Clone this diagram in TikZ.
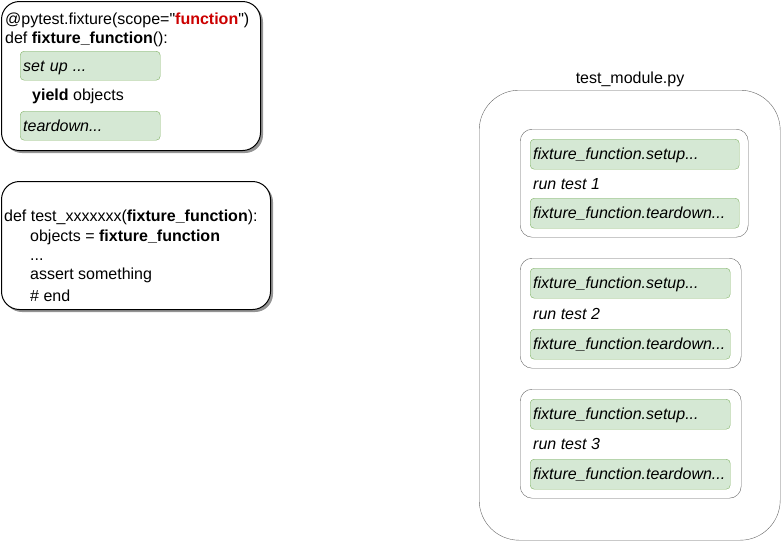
\documentclass[tikz,border=0pt]{standalone}
\usepackage{fontspec}
\setmainfont{Liberation Sans}[Ligatures=TeXOff]
\usetikzlibrary{shadows}
\definecolor{fnred}{HTML}{CC0000}
\definecolor{greenfill}{HTML}{D5E8D4}
\definecolor{greenline}{HTML}{82B366}
\definecolor{boxline}{HTML}{666666}

\begin{document}
\begin{tikzpicture}[x=1pt,y=-1pt]
	\tikzset{every node/.style={font=\fontsize{16}{19.2}\selectfont,
			text height=14pt, text depth=2.5pt}}
	\tikzset{code/.style = {anchor=west, inner sep=0pt}}
	\tikzset{codebox/.style = {draw, line width=1pt, fill=white, rounded corners=18pt,
			anchor=north west, drop shadow={shadow xshift=2.5pt, shadow yshift=-2.5pt,
			fill=black!70, opacity=0.6}}}
	\tikzset{greenbox/.style = {draw=greenline, fill=greenfill, rounded corners=4pt,
			anchor=north west, minimum height=30pt, inner xsep=3pt, inner ysep=0pt,
			align=left, text width=#1, font=\fontsize{16}{19.2}\selectfont\itshape}}
	\tikzset{runbox/.style = {draw=boxline, rounded corners=12pt, anchor=north west}}
	\useasboundingbox (0,0) rectangle (781,542);
	% fixture
	\node[codebox, minimum width=259pt, minimum height=149pt] (fixture) at (1,1) {};
	\node[code] (deco) at (5,19) {@pytest.fixture(scope="\textcolor{fnred}{\textbf{function}}")};
	\node[code] (fixdef) at (5,38) {def \textbf{fixture\_function}():};
	\node[greenbox=134pt, minimum height=29pt] (setup) at (20,51) {set up ...};
	\node[code] (yield) at (32,95) {\textbf{yield} objects};
	\node[greenbox=134pt, minimum height=29pt] (teardown) at (20,111) {teardown...};
	% test function
	\node[codebox, minimum width=269pt, minimum height=128pt] (testfn) at (1,181) {};
	\node[code] (testdef) at (4,216) {def test\_xxxxxxx(\textbf{fixture\_function}):};
	\node[code] (objects) at (30,235.5) {objects = \textbf{fixture\_function}};
	\node[code] (dots) at (30,254.5) {...};
	\node[code] (assert) at (30,274) {assert something};
	\node[code] (end) at (30,296) {\# end};
	% module
	\node (modname) at (630,78) {test\_module.py};
	\node[draw=boxline, rounded corners=40pt, anchor=north west,
		minimum width=301pt, minimum height=450pt] (module) at (479,90) {};
	% run 1
	\node[runbox, minimum width=228pt, minimum height=108pt] (run1) at (520,129) {};
	\node[greenbox=203pt] (setup1) at (530,139) {fixture\_function.setup...};
	\node[code, font=\fontsize{16}{19.2}\selectfont\itshape] (test1) at (533,184) {run test 1};
	\node[greenbox=203pt] (teardown1) at (530,198) {fixture\_function.teardown...};
	% run 2
	\node[runbox, minimum width=221pt, minimum height=110pt] (run2) at (520,258) {};
	\node[greenbox=194pt] (setup2) at (530,268) {fixture\_function.setup...};
	\node[code, font=\fontsize{16}{19.2}\selectfont\itshape] (test2) at (533,314) {run test 2};
	\node[greenbox=194pt] (teardown2) at (530,329) {fixture\_function.teardown...};
	% run 3
	\node[runbox, minimum width=221pt, minimum height=109pt] (run3) at (520,389) {};
	\node[greenbox=194pt] (setup3) at (530,399) {fixture\_function.setup...};
	\node[code, font=\fontsize{16}{19.2}\selectfont\itshape] (test3) at (533,444) {run test 3};
	\node[greenbox=194pt] (teardown3) at (530,459) {fixture\_function.teardown...};
\end{tikzpicture}
\end{document}
